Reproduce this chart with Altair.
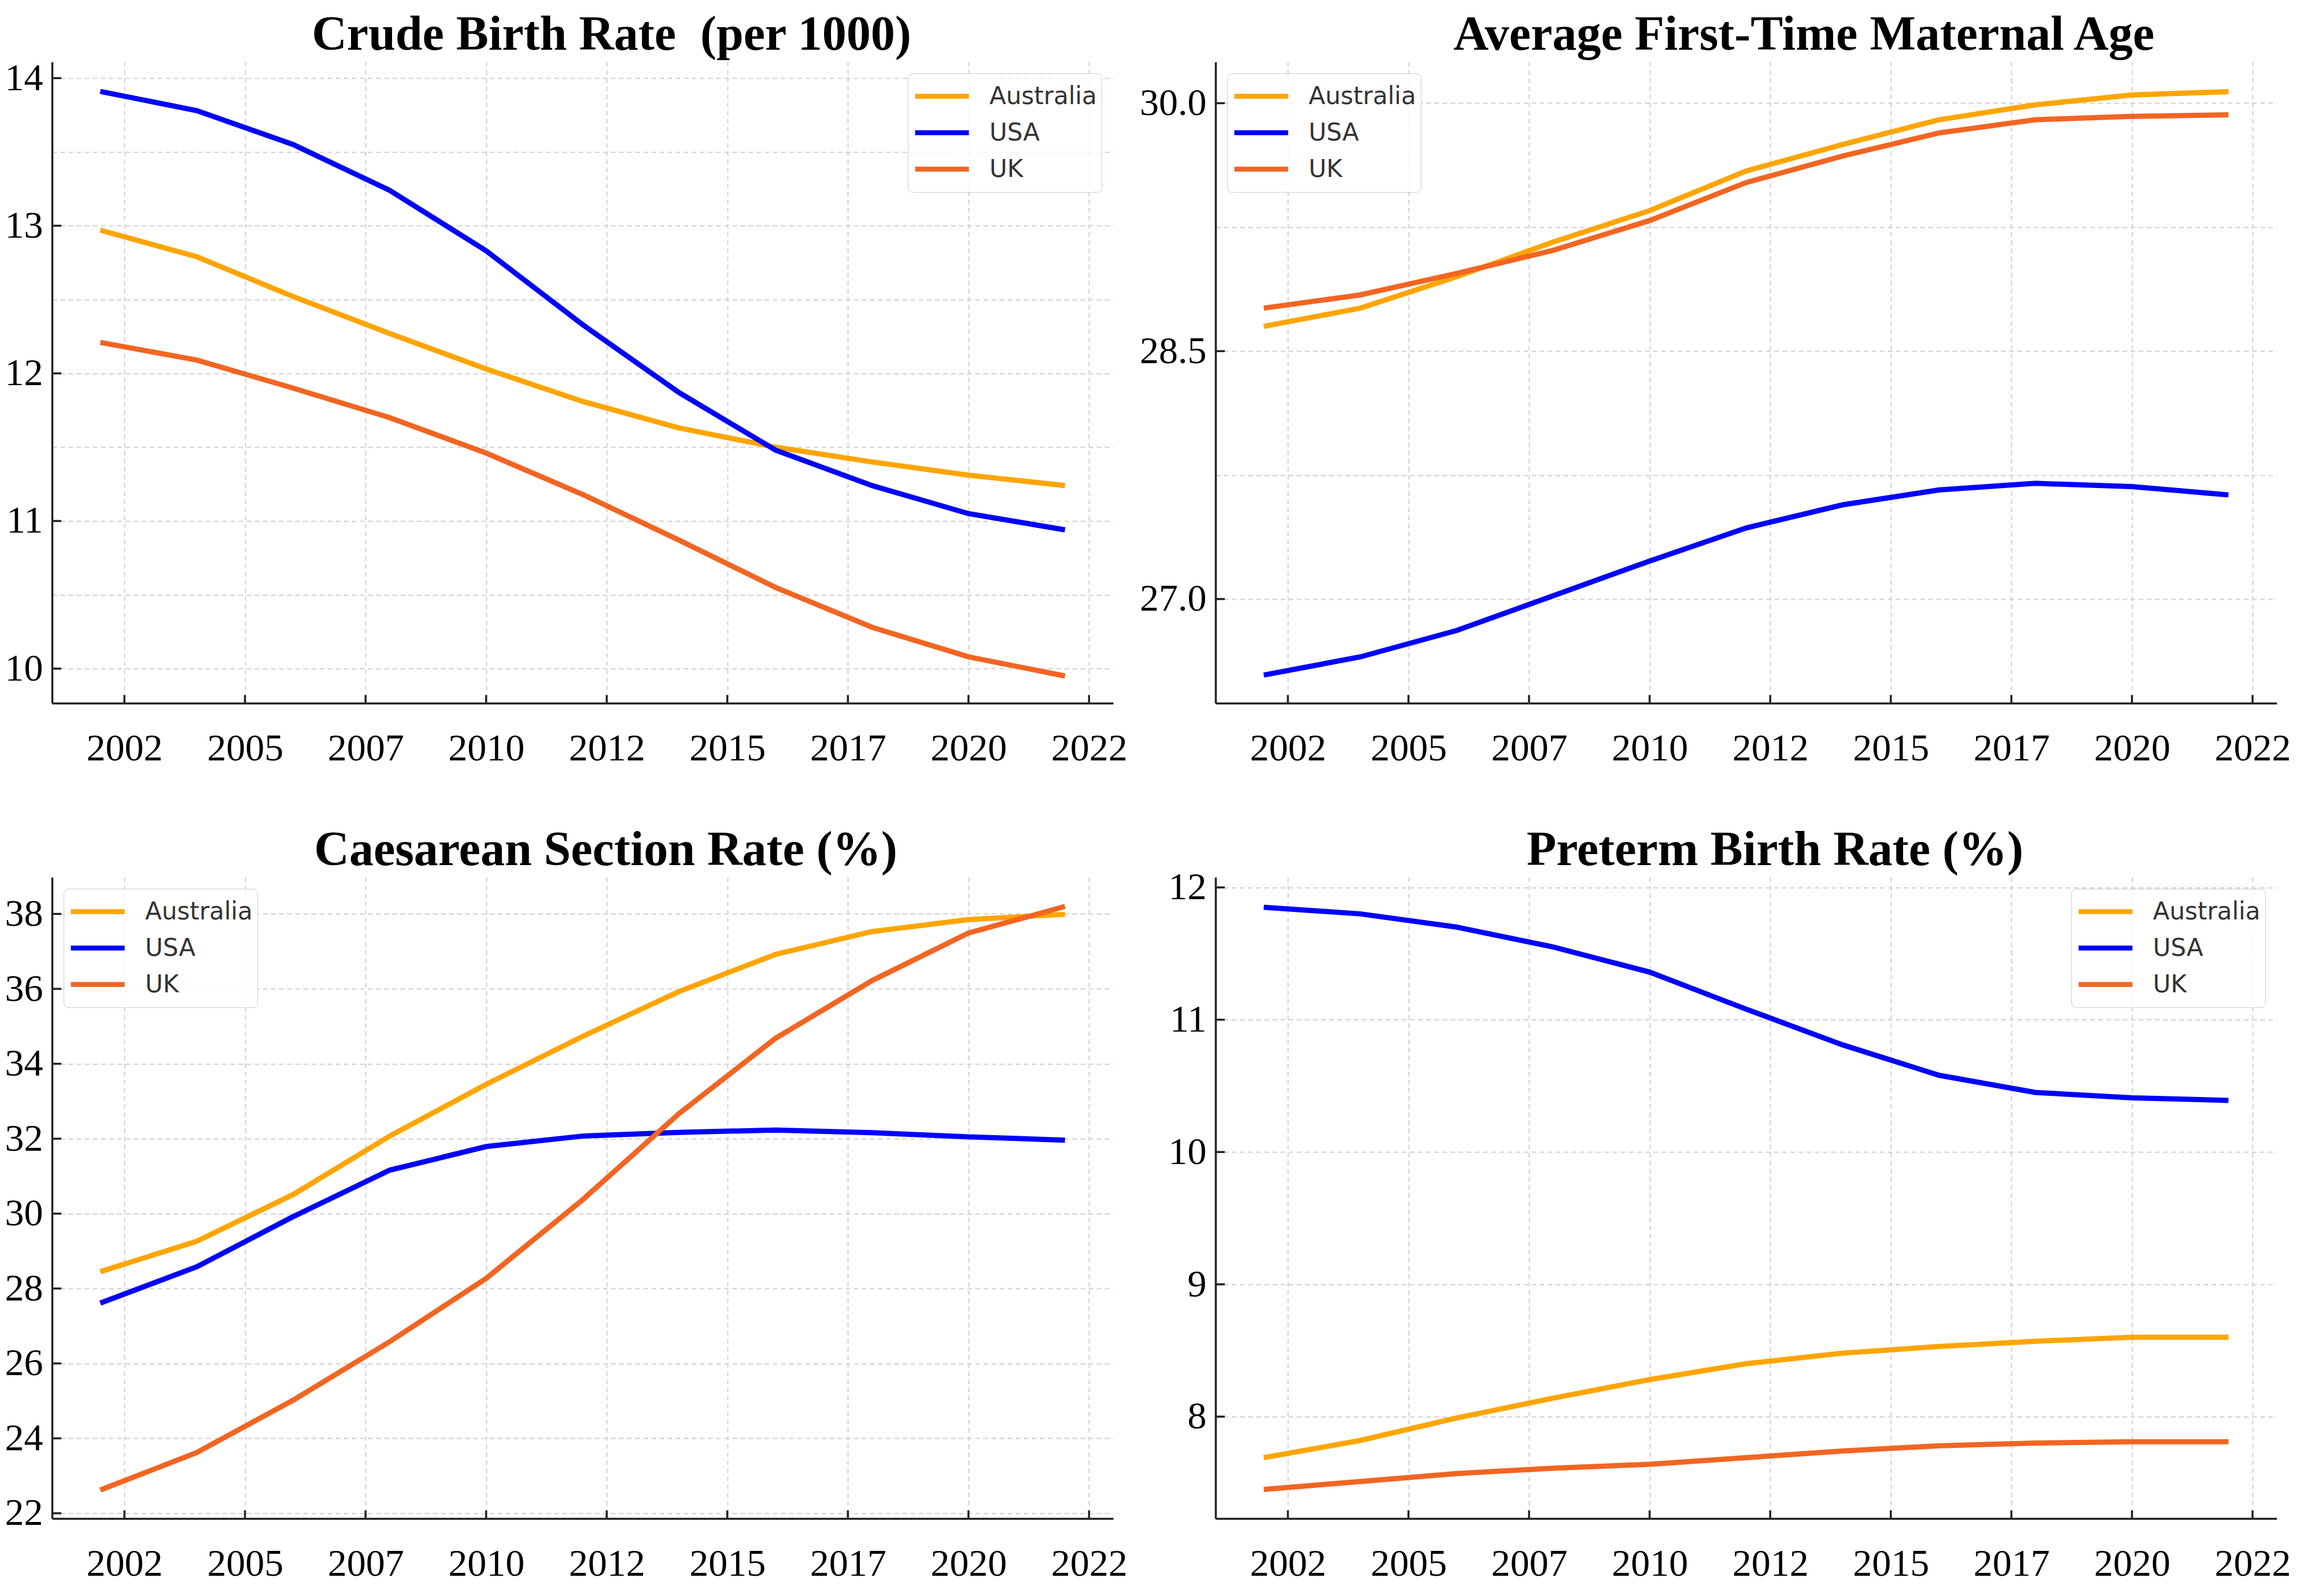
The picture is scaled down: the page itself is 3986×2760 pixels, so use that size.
import altair as alt
import pandas as pd

# ---------------- data ----------------
years = [2002, 2004, 2006, 2008, 2010, 2012, 2014, 2016, 2018, 2020, 2022]
countries = ["Australia", "USA", "UK"]
colors = ["#FFA500", "#0000FF", "#F26522"]

# Crude birth rate (per 1000)
aus_cbr = [12.97, 12.79, 12.52, 12.27, 12.03, 11.81, 11.63, 11.50, 11.40, 11.31, 11.24]
usa_cbr = [13.91, 13.78, 13.55, 13.24, 12.83, 12.33, 11.87, 11.48, 11.24, 11.05, 10.94]
uk_cbr = [12.21, 12.09, 11.90, 11.70, 11.46, 11.18, 10.87, 10.55, 10.28, 10.08, 9.95]

# Average first-time maternal age
aus_age = [28.65, 28.76, 28.95, 29.16, 29.35, 29.59, 29.75, 29.90, 29.99, 30.05, 30.07]
usa_age = [26.54, 26.65, 26.81, 27.02, 27.23, 27.43, 27.57, 27.66, 27.70, 27.68, 27.63]
uk_age = [28.76, 28.84, 28.97, 29.11, 29.29, 29.52, 29.68, 29.82, 29.90, 29.92, 29.93]

# Caesarean section rate (%)
aus_cs = [28.45, 29.26, 30.51, 32.07, 33.45, 34.73, 35.93, 36.92, 37.53, 37.85, 37.99]
usa_cs = [27.61, 28.58, 29.92, 31.16, 31.79, 32.07, 32.17, 32.23, 32.16, 32.05, 31.96]
uk_cs = [22.62, 23.62, 25.02, 26.58, 28.27, 30.37, 32.67, 34.68, 36.22, 37.49, 38.20]

# Preterm birth rate (%)
aus_pt = [7.69, 7.82, 7.99, 8.14, 8.28, 8.40, 8.48, 8.53, 8.57, 8.60, 8.60]
usa_pt = [11.85, 11.80, 11.70, 11.55, 11.36, 11.08, 10.81, 10.58, 10.45, 10.41, 10.39]
uk_pt = [7.45, 7.51, 7.57, 7.61, 7.64, 7.69, 7.74, 7.78, 7.80, 7.81, 7.81]

# axis ticks
x_ticks = [2002.5, 2005, 2007.5, 2010, 2012.5, 2015, 2017.5, 2020, 2022.5]
x_domain = [2001, 2023]

W, H = 1835, 1109
AXIS_COLOR = "#222222"
SERIF = "Liberation Serif"


def panel(title, aus, usa, uk, ydom, ygrid, ylab, yfmt, legend_orient, dx, title_y):
    rows = []
    for name, vals in zip(countries, [aus, usa, uk]):
        for yr, v in zip(years, vals):
            rows.append({"year": yr, "value": v, "country": name})
    df = pd.DataFrame(rows)

    lab_list = ",".join(str(v) for v in ylab)
    ylabel_expr = f"indexof([{lab_list}], datum.value) >= 0 ? format(datum.value, '{yfmt}') : ''"

    xscale = alt.Scale(domain=x_domain, nice=False, zero=False)
    yscale = alt.Scale(domain=ydom, nice=False, zero=False)
    xaxis = alt.Axis(values=x_ticks, labelExpr="floor(datum.value)", title=None,
                     labelPadding=46, labelFlush=False)
    yaxis = alt.Axis(values=ygrid, labelExpr=ylabel_expr, title=None,
                     labelPadding=16, minExtent=81, maxExtent=81)

    lines = alt.Chart(df).mark_line(strokeWidth=9).encode(
        x=alt.X("year:Q", scale=xscale, axis=xaxis),
        y=alt.Y("value:Q", scale=yscale, axis=yaxis),
        color=alt.Color("country:N", scale=alt.Scale(domain=countries, range=colors),
                        legend=alt.Legend(orient=legend_orient, offset=20, title=None,
                                          symbolType="stroke", symbolSize=8649,
                                          symbolStrokeWidth=8.5,
                                          labelFont="DejaVu Sans", labelFontSize=42,
                                          labelColor="#333333", labelOffset=31,
                                          clipHeight=63, rowPadding=0, padding=8,
                                          fillColor="rgba(255,255,255,0.8)",
                                          strokeColor="#cccccc", cornerRadius=8,
                                          labelLimit=600)),
    )

    xt = alt.Chart(pd.DataFrame({"year": x_ticks})).mark_rule(
        color=AXIS_COLOR, strokeWidth=3.5).encode(
        x=alt.X("year:Q", scale=xscale, axis=xaxis),
        y=alt.value(H), y2=alt.value(H - 14))
    yt = alt.Chart(pd.DataFrame({"value": ylab})).mark_rule(
        color=AXIS_COLOR, strokeWidth=3.5).encode(
        y=alt.Y("value:Q", scale=yscale, axis=yaxis),
        x=alt.value(0), x2=alt.value(16))

    ttl = alt.Chart(pd.DataFrame({"t": [title]})).mark_text(
        font=SERIF, fontWeight="bold", fontSize=84, color="black",
        align="center", baseline="alphabetic").encode(
        text="t:N", x=alt.value(W / 2 + dx), y=alt.value(title_y))

    return alt.layer(lines, xt, yt, ttl).properties(width=W, height=H)


p1 = panel("Crude Birth Rate \u00a0(per 1000)", aus_cbr, usa_cbr, uk_cbr,
           [9.766, 14.11], [10, 10.5, 11, 11.5, 12, 12.5, 13, 13.5, 14],
           [10, 11, 12, 13, 14], "d", "top-right", 50, -21)
p2 = panel("Average First-Time Maternal Age", aus_age, usa_age, uk_age,
           [26.37, 30.25], [27.0, 27.75, 28.5, 29.25, 30.0],
           [27, 28.5, 30], ".1f", "top-left", 100, -21)
p3 = panel("Caesarean Section Rate (%)", aus_cs, usa_cs, uk_cs,
           [21.86, 38.98], [22, 24, 26, 28, 30, 32, 34, 36, 38],
           [22, 24, 26, 28, 30, 32, 34, 36, 38], "d", "top-left", 40, -21)
p4 = panel("Preterm Birth Rate (%)", aus_pt, usa_pt, uk_pt,
           [7.23, 12.077], [8, 9, 10, 11, 12],
           [8, 9, 10, 11, 12], "d", "top-right", 50, -21)

chart = alt.concat(p1, p2, p3, p4, columns=2,
                   spacing={"row": 301, "column": 177}, bounds="flush").properties(
    padding={"top": 11, "left": 0, "right": 0, "bottom": 0}, background="white"
).configure_view(strokeWidth=0).configure_axis(
    domainColor=AXIS_COLOR, domainWidth=3.5, ticks=False,
    labelFont=SERIF, labelFontSize=66, labelColor="black",
    gridColor="#cfcfcf", gridWidth=2, gridDash=[8, 6],
)

chart.save("out.html", embed_options={"renderer": "svg", "actions": False})
